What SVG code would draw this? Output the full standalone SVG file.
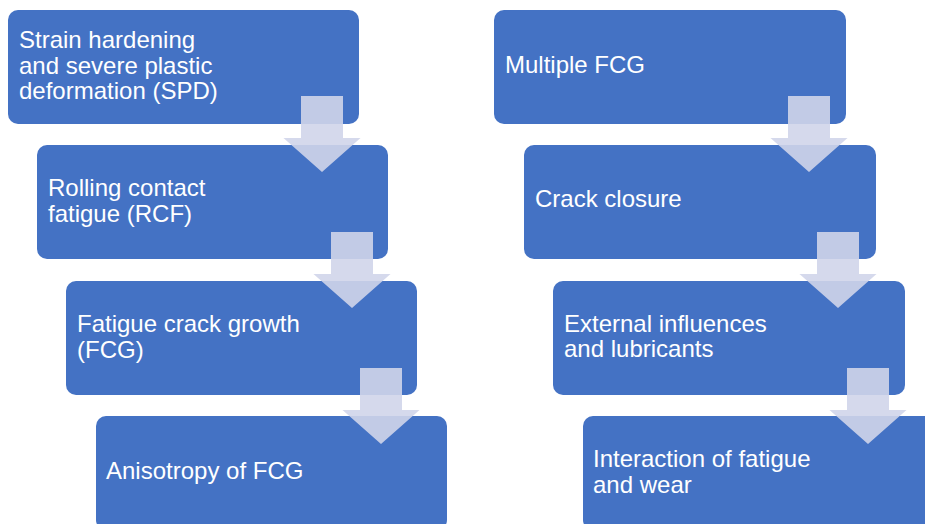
<svg xmlns="http://www.w3.org/2000/svg" xmlns:xlink="http://www.w3.org/1999/xlink" width="925" height="524" viewBox="0 0 925 524">
  <style>
    .box { fill: #4472C4; }
    .label { fill: #FFFFFF; font-family: "Liberation Sans", Arial, sans-serif; font-size: 24px; }
    .step { fill: #D0D5EA; fill-opacity: 0.9; }
  </style>
  <defs>
    <!-- down arrow: shaft 42 wide, head 77 wide, tip 76 below the top -->
    <path id="down" class="step" d="M-21,0 H21 V42 H38.5 L0,76 L-38.5,42 H-21 Z"/>
  </defs>
  <rect width="925" height="524" fill="#FFFFFF"/>

  <!-- left column -->
  <g id="spd">
    <rect class="box" x="8" y="10" width="351" height="114" rx="10"/>
    <text class="label" x="19" y="48">Strain hardening</text>
    <text class="label" x="19" y="73.5">and severe plastic</text>
    <text class="label" x="19" y="99">deformation (SPD)</text>
  </g>
  <g id="rcf">
    <rect class="box" x="37" y="145" width="351" height="114" rx="10"/>
    <text class="label" x="48" y="196">Rolling contact</text>
    <text class="label" x="48" y="221.5">fatigue (RCF)</text>
  </g>
  <g id="fcg">
    <rect class="box" x="66" y="281" width="351" height="114" rx="10"/>
    <text class="label" x="77" y="332">Fatigue crack growth</text>
    <text class="label" x="77" y="357.5">(FCG)</text>
  </g>
  <g id="anisotropy">
    <rect class="box" x="96" y="416" width="351" height="114" rx="10"/>
    <text class="label" x="106" y="479">Anisotropy of FCG</text>
  </g>

  <!-- right column -->
  <g id="multiple-fcg">
    <rect class="box" x="494" y="10" width="352" height="114" rx="10"/>
    <text class="label" x="505" y="73">Multiple FCG</text>
  </g>
  <g id="crack-closure">
    <rect class="box" x="524" y="145" width="352" height="114" rx="10"/>
    <text class="label" x="535" y="207">Crack closure</text>
  </g>
  <g id="external">
    <rect class="box" x="553" y="281" width="352" height="114" rx="10"/>
    <text class="label" x="564" y="331.5">External influences</text>
    <text class="label" x="564" y="357">and lubricants</text>
  </g>
  <g id="interaction">
    <rect class="box" x="583" y="416" width="352" height="114" rx="10"/>
    <text class="label" x="593" y="467">Interaction of fatigue</text>
    <text class="label" x="593" y="493">and wear</text>
  </g>

  <!-- step-down arrows -->
  <g id="connectors">
    <use xlink:href="#down" href="#down" x="322" y="96"/>
    <use xlink:href="#down" href="#down" x="352" y="232"/>
    <use xlink:href="#down" href="#down" x="381" y="368"/>
    <use xlink:href="#down" href="#down" x="809" y="96"/>
    <use xlink:href="#down" href="#down" x="838" y="232"/>
    <use xlink:href="#down" href="#down" x="868" y="368"/>
  </g>
</svg>
